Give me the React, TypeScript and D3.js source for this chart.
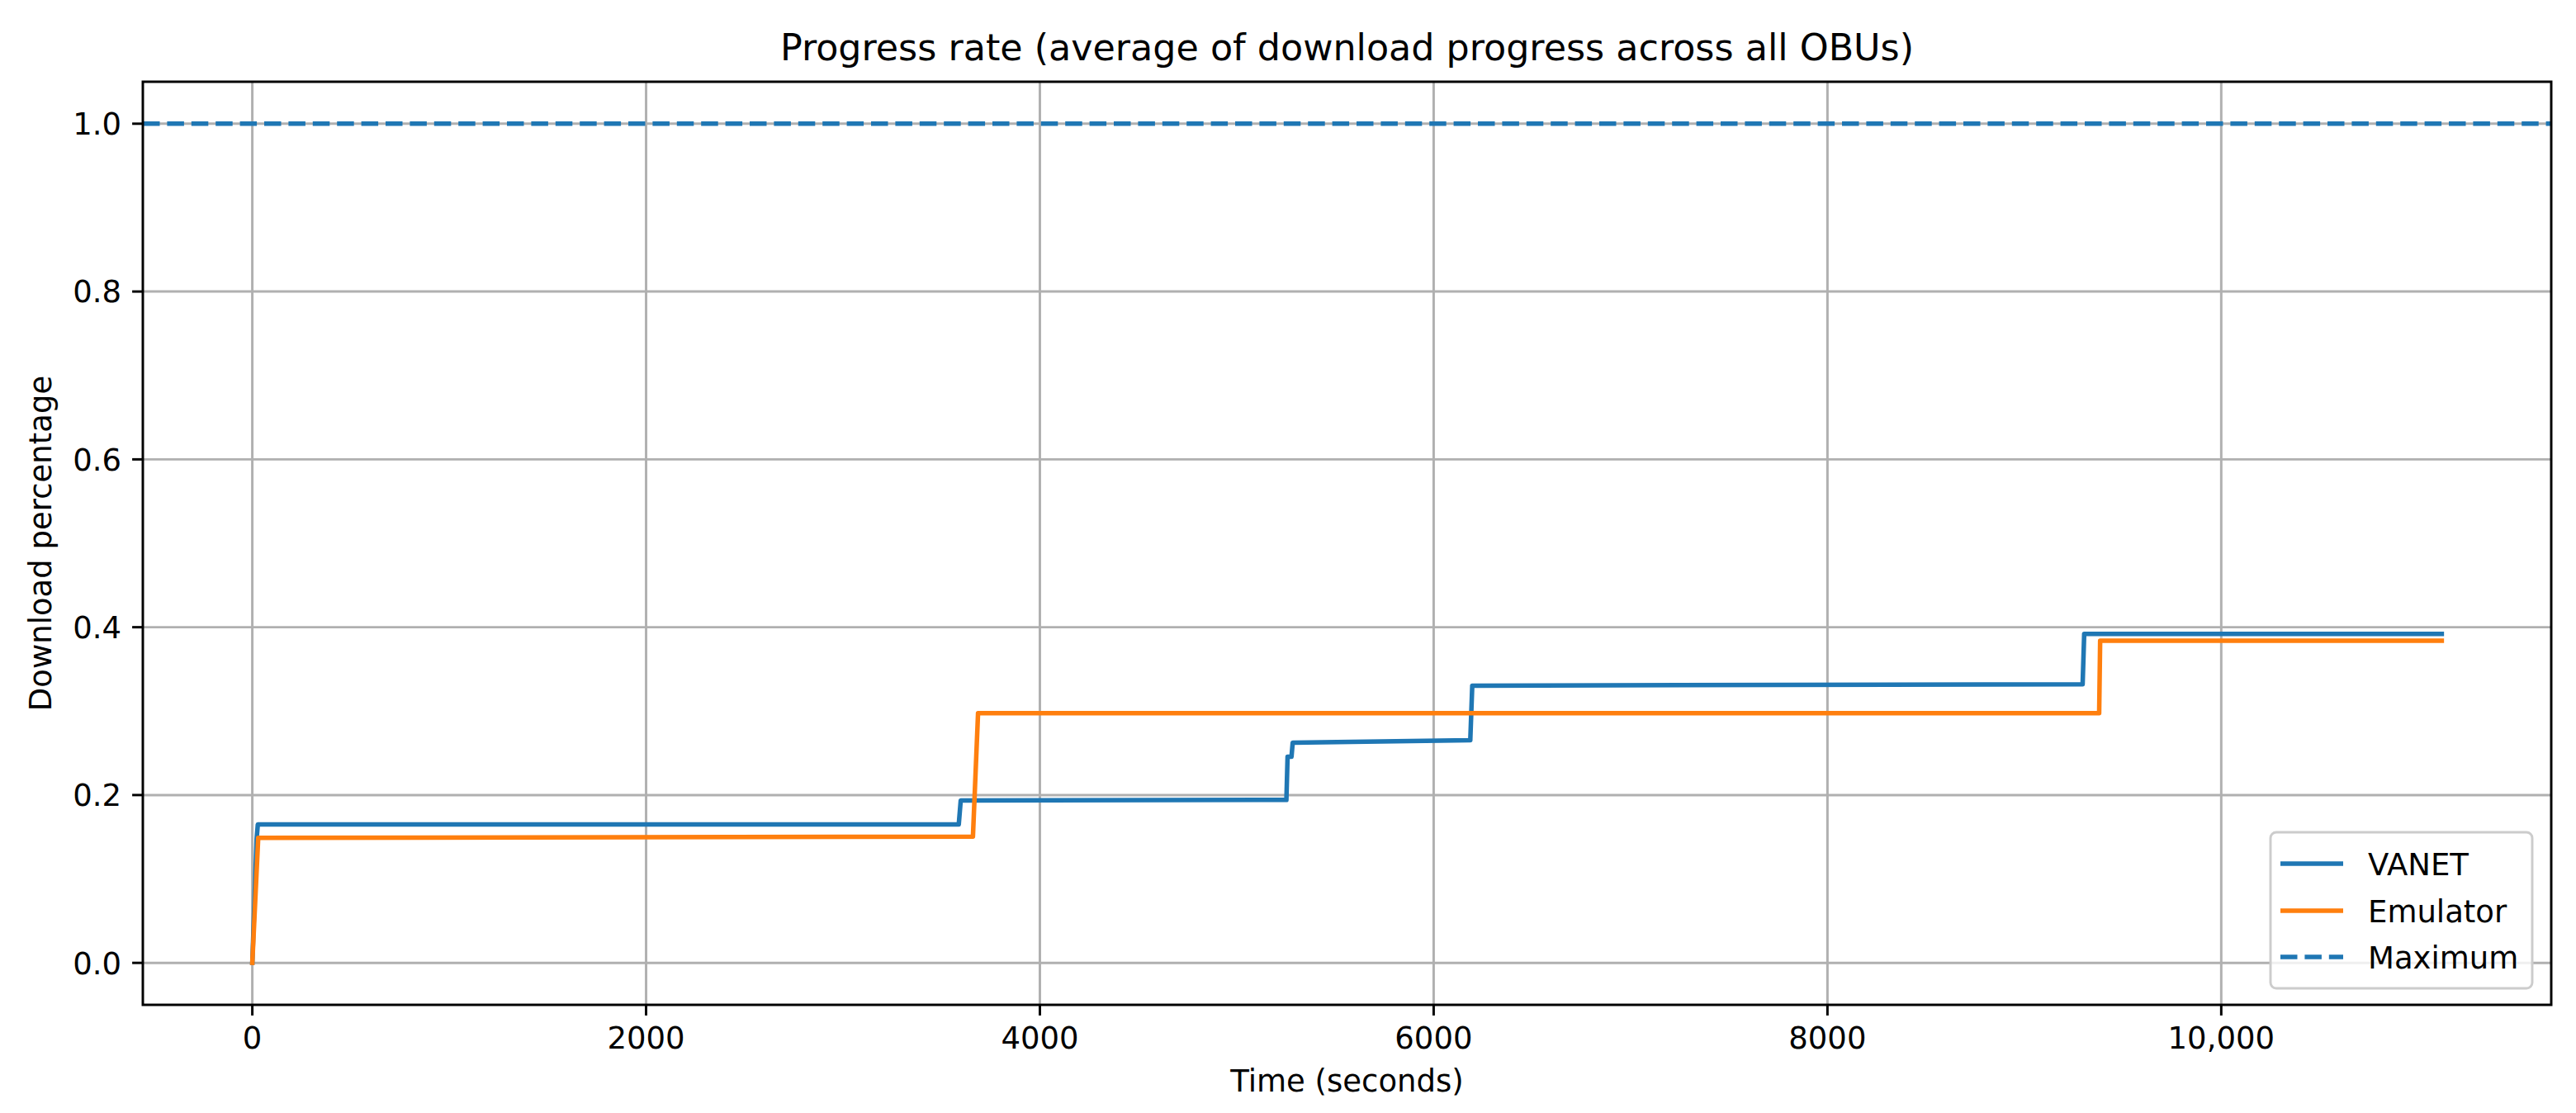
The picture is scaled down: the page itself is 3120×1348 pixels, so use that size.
import React from "react";
import * as d3 from "d3";

const vanetTime = [0, 22, 28, 3588, 3598, 5252, 5258, 5278, 5284, 6186, 6196, 9296, 9304, 11120];
const vanetValue = [0, 0.148, 0.165, 0.165, 0.1935, 0.1942, 0.2457, 0.2457, 0.2624, 0.2654, 0.3304, 0.332, 0.3921, 0.3921];

const emulatorTime = [0, 30, 3660, 3686, 9380, 9385, 11120];
const emulatorValue = [0, 0.149, 0.1505, 0.2976, 0.2976, 0.3838, 0.3838];

const maximumValue = 1.0;

const xTickValues = [0, 2000, 4000, 6000, 8000, 10000];
const xTickLabels = ["0", "2000", "4000", "6000", "8000", "10,000"];
const yTickValues = [0, 0.2, 0.4, 0.6, 0.8, 1.0];
const yTickLabels = ["0.0", "0.2", "0.4", "0.6", "0.8", "1.0"];

const seriesNames = ["VANET", "Emulator", "Maximum"];

const W = 3120;
const H = 1348;
const L = 173, R = 3090, T = 99, B = 1217;
const FONT = "'DejaVu Sans', sans-serif";
const FS = 37;
const BLUE = "#1f77b4";
const ORANGE = "#ff7f0e";
const LW = 5.5;
const GW = 2.96;
const TICK = 12.9;

export default function App() {
  const x = d3.scaleLinear().domain([-556, 11676]).range([L, R]);
  const y = d3.scaleLinear().domain([-0.05, 1.05]).range([B, T]);
  const line = d3
    .line<[number, number]>()
    .x((d) => x(d[0]))
    .y((d) => y(d[1]));
  const vanet = vanetTime.map((t, i) => [t, vanetValue[i]] as [number, number]);
  const emu = emulatorTime.map((t, i) => [t, emulatorValue[i]] as [number, number]);
  const dash = "20.5 8.9";

  const legX = 2750, legY = 1008, legW = 317, legH = 189;
  const rowY = [1046, 1103, 1159];

  return (
    <svg
      width={W}
      height={H}
      style={{ position: "absolute", left: 0, top: 0, background: "#fff" }}
      fontFamily={FONT}
    >
      <rect x={0} y={0} width={W} height={H} fill="#fff" />
      <defs>
        <clipPath id="plot">
          <rect x={L} y={T} width={R - L} height={B - T} />
        </clipPath>
      </defs>
      {/* grid */}
      {xTickValues.map((v) => (
        <line key={"gx" + v} x1={x(v)} x2={x(v)} y1={T} y2={B} stroke="#b0b0b0" strokeWidth={GW} />
      ))}
      {yTickValues.map((v) => (
        <line key={"gy" + v} x1={L} x2={R} y1={y(v)} y2={y(v)} stroke="#b0b0b0" strokeWidth={GW} />
      ))}
      <g clipPath="url(#plot)">
        <path d={line(vanet) || ""} fill="none" stroke={BLUE} strokeWidth={LW} strokeLinejoin="round" strokeLinecap="square" />
        <path d={line(emu) || ""} fill="none" stroke={ORANGE} strokeWidth={LW} strokeLinejoin="round" strokeLinecap="square" />
        <line x1={L} x2={R} y1={y(maximumValue)} y2={y(maximumValue)} stroke={BLUE} strokeWidth={LW} strokeDasharray={dash} />
      </g>
      {/* spines */}
      <rect x={L} y={T} width={R - L} height={B - T} fill="none" stroke="#000" strokeWidth={GW} />
      {/* x ticks */}
      {xTickValues.map((v, i) => (
        <g key={"xt" + v}>
          <line x1={x(v)} x2={x(v)} y1={B} y2={B + TICK} stroke="#000" strokeWidth={GW} />
          <text x={x(v)} y={1270} fontSize={FS} textAnchor="middle" fill="#000">
            {xTickLabels[i]}
          </text>
        </g>
      ))}
      {/* y ticks */}
      {yTickValues.map((v, i) => (
        <g key={"yt" + v}>
          <line x1={L - TICK} x2={L} y1={y(v)} y2={y(v)} stroke="#000" strokeWidth={GW} />
          <text x={147} y={y(v)} dy="0.36em" fontSize={FS} textAnchor="end" fill="#000">
            {yTickLabels[i]}
          </text>
        </g>
      ))}
      {/* labels */}
      <text x={(L + R) / 2} y={1322} fontSize={FS} textAnchor="middle" fill="#000">
        Time (seconds)
      </text>
      <text transform={`translate(62, ${(T + B) / 2}) rotate(-90)`} fontSize={FS} textAnchor="middle" fill="#000">
        Download percentage
      </text>
      <text x={(L + R) / 2} y={73} fontSize={44.4} textAnchor="middle" fill="#000">
        Progress rate (average of download progress across all OBUs)
      </text>
      {/* legend */}
      <rect x={legX} y={legY} width={legW} height={legH} rx={7} ry={7} fill="#fff" fillOpacity={0.8} stroke="#cccccc" strokeWidth={GW} />
      {seriesNames.map((name, i) => (
        <g key={name}>
          <line
            x1={2762}
            x2={2838}
            y1={rowY[i]}
            y2={rowY[i]}
            stroke={i === 1 ? ORANGE : BLUE}
            strokeWidth={LW}
            strokeDasharray={i === 2 ? dash : undefined}
          />
          <text x={2868} y={rowY[i] + 14} fontSize={FS} fill="#000">
            {name}
          </text>
        </g>
      ))}
    </svg>
  );
}
